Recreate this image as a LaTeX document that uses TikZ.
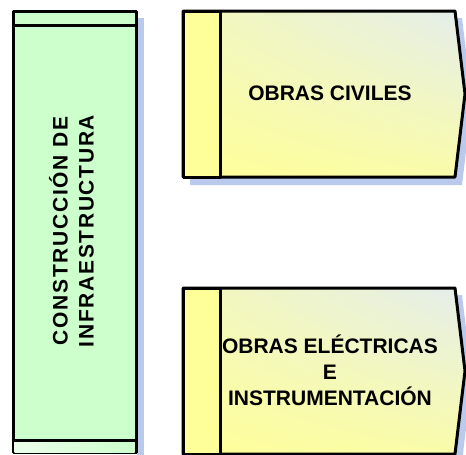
\documentclass[tikz,border=0pt]{standalone}
\usepackage{fontspec}
\setmainfont{Liberation Sans}
\usetikzlibrary{shadings}
\definecolor{verde}{RGB}{204,255,204}
\definecolor{amarillo}{RGB}{255,255,153}
\definecolor{azulado}{RGB}{228,238,236}
\definecolor{sombraazul}{RGB}{185,202,236}
\begin{document}
\begin{tikzpicture}
[x=1pt,y=-1pt,
borde/.style={draw=black,line width=3pt,line join=round},
sombra/.style={fill=sombraazul},
texto/.style={font=\bfseries\fontsize{21}{26}\selectfont,align=center,inner sep=0pt}]
\useasboundingbox (0,0) rectangle (466,455);
\clip (0,0) rectangle (466,455);

% columna de la izquierda
\fill[sombra] (137,18) rectangle (144,460);
\draw[borde,fill=verde] (13,11) rectangle (136,452);
\shade[left color=verde!40!white,right color=verde] (14.5,441.5) rectangle (134.5,452);
\draw[borde] (13,25) -- (136,25);
\draw[borde] (13,440) -- (136,440);
\node[texto,rotate=90] (infra) at (71.5,231)
{\addfontfeature{LetterSpace=8}CONSTRUCCIÓN DE\\\addfontfeature{LetterSpace=8}INFRAESTRUCTURA};

% cajas de la derecha
\foreach \t in {11,288}{
\fill[sombra] (190,\t+7) -- (462,\t+7) -- (472,\t+90) -- (462,\t+174) -- (190,\t+174) -- cycle;
\shadedraw[borde,lower left=amarillo,upper right=azulado,upper left=amarillo!60!azulado,lower right=amarillo!80!azulado]
(183,\t) -- (455,\t) -- (465,\t+83) -- (455,\t+166) -- (183,\t+166) -- cycle;
\draw[borde,fill=amarillo] (183,\t) rectangle (220,\t+166);
}

\node[texto,anchor=base] (civiles) at (330,100) {OBRAS CIVILES};
\node[texto,anchor=base] (electricas) at (330,405)
{OBRAS ELÉCTRICAS\\E\\INSTRUMENTACIÓN};
\end{tikzpicture}
\end{document}
